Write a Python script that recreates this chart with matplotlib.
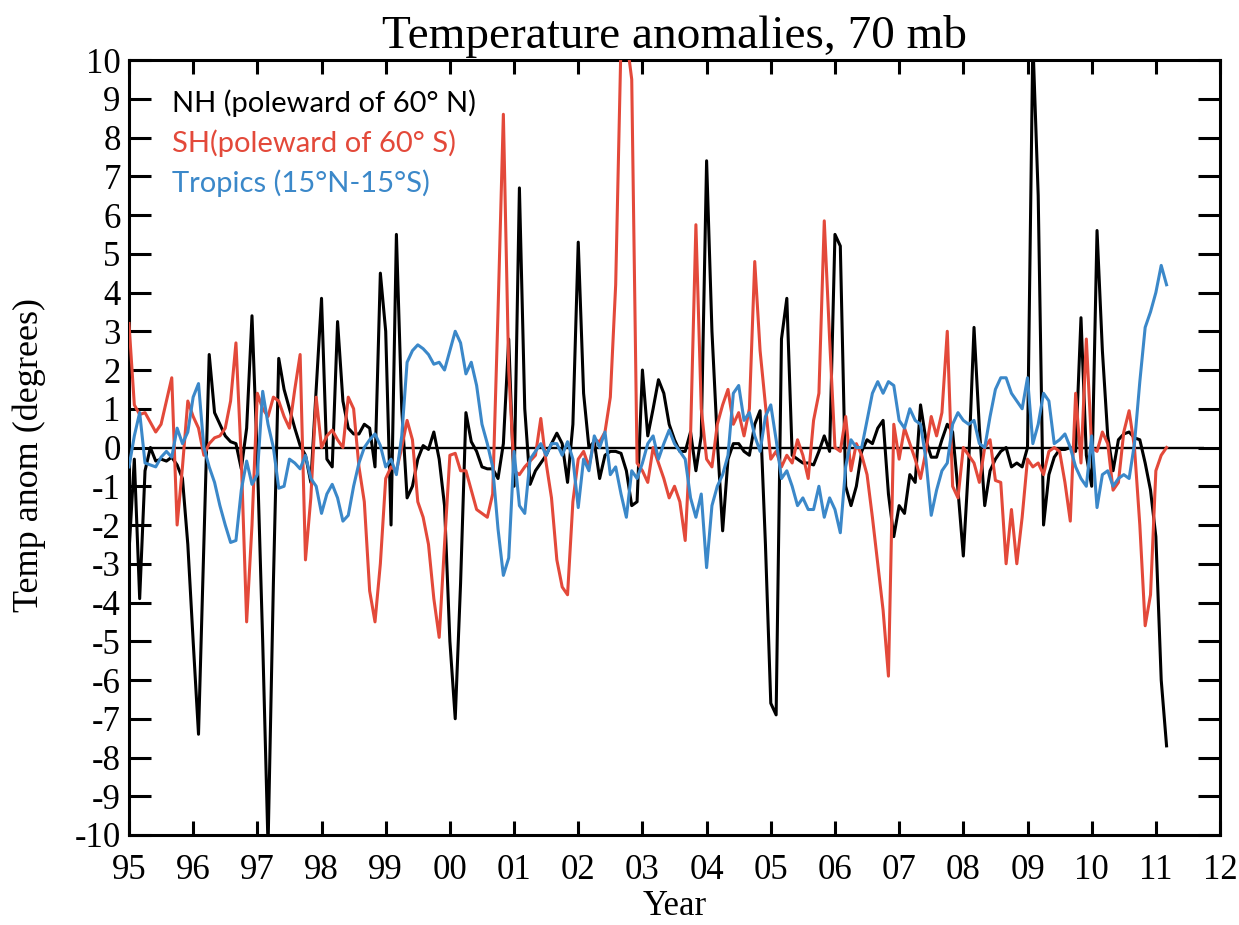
import numpy as np
import matplotlib
matplotlib.use("Agg")
import matplotlib.pyplot as plt

# Monthly anomalies, Jan 1995 .. Mar 2011
nh = [
    -2.7, -0.3, -3.9, -0.6, 0.0, -0.35, -0.3, -0.35, -0.25, -0.45, -0.8, -2.5,
    -5.0, -7.4, -2.5, 2.4, 0.9, 0.6, 0.3, 0.15, 0.1, -0.55, 0.5, 3.4,
    -0.3, -5.0, -10.3, -3.5, 2.3, 1.5, 1.0, 0.5, 0.05, -0.2, -0.9, 1.5,
    3.85, -0.3, -0.5, 3.25, 1.2, 0.5, 0.35, 0.35, 0.6, 0.5, -0.5, 4.5,
    3.0, -2.0, 5.5, 1.0, -1.3, -1.0, -0.3, 0.05, -0.05, 0.4, -0.3, -1.5,
    -5.0, -7.0, -3.5, 0.9, 0.15, -0.1, -0.5, -0.55, -0.55, -0.8, 0.1, 2.8,
    -1.0, 6.7, 1.0, -0.95, -0.6, -0.4, -0.2, 0.1, 0.37, 0.1, -0.9, 0.6,
    5.3, 1.4, 0.0, 0.15, -0.8, -0.2, -0.1, -0.1, -0.15, -0.6, -1.5, -1.4,
    2.0, 0.3, 1.0, 1.75, 1.4, 0.6, 0.2, -0.1, -0.1, 0.4, -0.6, 0.3,
    7.4, 3.0, 0.2, -2.15, -0.3, 0.1, 0.1, -0.1, -0.2, 0.6, 0.95, -2.5,
    -6.6, -6.9, 2.8, 3.85, -0.2, -0.3, -0.4, -0.4, -0.45, -0.1, 0.3, -0.1,
    5.5, 5.2, -1.0, -1.5, -1.0, -0.1, 0.2, 0.1, 0.5, 0.7, -1.2, -2.3,
    -1.5, -1.7, -0.7, -0.9, 1.1, 0.2, -0.25, -0.25, 0.2, 0.6, 0.4, -1.1,
    -2.8, -0.4, 3.1, 0.5, -1.5, -0.6, -0.3, -0.1, 0.0, -0.5, -0.4, -0.5,
    0.0, 10.5, 6.5, -2.0, -0.7, -0.25, -0.05, -0.05, 0.0, -0.1, 3.35, -0.2,
    -1.0, 5.6, 2.5, 0.3, -0.6, 0.2, 0.35, 0.4, 0.25, 0.2, -0.4, -1.1,
    -2.3, -6.0, -7.7,
]
sh = [
    3.2, 1.1, 0.85, 0.9, 0.65, 0.4, 0.6, 1.2, 1.8, -2.0, -0.5, 1.2,
    0.8, 0.5, -0.2, 0.1, 0.25, 0.3, 0.5, 1.2, 2.7, -0.3, -4.5, -2.0,
    1.4, 1.0, 0.8, 1.3, 1.2, 0.8, 0.5, 1.5, 2.4, -2.9, -1.3, 1.3,
    0.0, 0.3, 0.45, 0.2, 0.0, 1.3, 1.0, -0.5, -1.4, -3.7, -4.5, -3.0,
    -0.8, -0.5, -0.6, 0.0, 0.7, 0.2, -1.4, -1.8, -2.5, -3.9, -4.9, -2.5,
    -0.2, -0.15, -0.6, -0.6, -1.1, -1.6, -1.7, -1.8, -1.2, 3.5, 8.6, 2.0,
    -0.6, -0.7, -0.5, -0.35, -0.2, 0.75, -0.4, -1.3, -2.9, -3.6, -3.8, -1.4,
    -0.3, -0.1, -0.5, 0.2, 0.15, 0.4, 1.3, 4.2, 10.5, 10.6, 9.5, -0.4,
    -0.6, -0.9, 0.0, -0.4, -0.8, -1.3, -1.0, -1.4, -2.4, 0.3, 5.75, 1.0,
    -0.3, -0.5, 0.6, 1.1, 1.5, 0.6, 0.9, 0.3, 1.0, 4.8, 2.5, 1.1,
    -0.3, -0.1, -0.5, -0.2, -0.4, 0.2, -0.2, -0.8, 0.7, 1.4, 5.85, 2.8,
    0.0, -0.1, 0.8, -0.6, 0.1, -0.2, -0.7, -1.8, -3.0, -4.2, -5.9, 0.6,
    -0.3, 0.5, 0.1, -0.3, -0.8, -0.1, 0.8, 0.3, 0.9, 3.0, -1.0, -1.3,
    0.0, -0.2, -0.4, -0.9, 0.0, 0.2, -0.85, -0.9, -3.0, -1.6, -3.0, -1.8,
    -0.3, -0.5, -0.4, -0.7, -0.1, 0.0, -0.1, -0.9, -1.9, 1.4, -0.4, 2.8,
    0.0, -0.1, 0.4, 0.1, -1.1, -0.9, 0.4, 0.95, 0.0, -2.0, -4.6, -3.8,
    -0.6, -0.2, 0.0,
]
tropics = [
    -0.5, 0.3, 0.9, -0.4, -0.45, -0.5, -0.25, -0.1, -0.25, 0.5, 0.1, 0.4,
    1.3, 1.65, 0.0, -0.5, -0.9, -1.5, -2.0, -2.45, -2.4, -1.1, -0.35, -0.95,
    -0.7, 1.45, 0.6, 0.0, -1.05, -1.0, -0.3, -0.4, -0.55, -0.2, -0.8, -1.0,
    -1.7, -1.2, -0.95, -1.3, -1.9, -1.75, -1.0, -0.4, 0.0, 0.2, 0.35, 0.05,
    -0.5, -0.3, -0.7, 0.3, 2.2, 2.5, 2.65, 2.55, 2.4, 2.15, 2.2, 2.0,
    2.5, 3.0, 2.7, 1.9, 2.2, 1.6, 0.6, 0.1, -0.5, -2.1, -3.3, -2.85,
    -0.1, -1.5, -1.7, -0.3, -0.1, 0.1, -0.2, 0.1, 0.1, -0.2, 0.15, -0.3,
    -1.55, -0.3, -0.6, 0.3, 0.0, 0.4, -0.7, -0.5, -1.2, -1.8, -0.6, -0.8,
    -0.4, 0.1, 0.3, -0.3, 0.1, 0.45, 0.1, -0.1, -0.3, -1.3, -1.8, -1.2,
    -3.1, -1.5, -1.0, -0.7, -0.2, 1.4, 1.6, 0.7, 0.9, 0.3, -0.1, 0.8,
    1.1, 0.2, -0.8, -0.6, -1.0, -1.5, -1.3, -1.6, -1.6, -1.0, -1.8, -1.3,
    -1.6, -2.2, -0.5, 0.2, 0.0, 0.0, 0.7, 1.4, 1.7, 1.4, 1.7, 1.6,
    0.7, 0.5, 1.0, 0.7, 0.6, -0.3, -1.75, -1.1, -0.6, -0.4, 0.6, 0.9,
    0.7, 0.6, 0.7, 0.1, 0.0, 0.8, 1.5, 1.8, 1.8, 1.4, 1.2, 1.0,
    1.8, 0.1, 0.6, 1.4, 1.2, 0.1, 0.2, 0.35, 0.0, -0.5, -0.8, -1.0,
    0.3, -1.55, -0.7, -0.6, -1.0, -0.8, -0.7, -0.8, 0.1, 1.7, 3.1, 3.5,
    4.0, 4.7, 4.2,
]
start_year = 1995
year_ticks = list(range(1995, 2013))
year_labels = ["%02d" % (y % 100) for y in year_ticks]
y_ticks = list(range(-10, 11))
y_labels = [str(v) for v in y_ticks]
legend_labels = ["NH (poleward of 60° N)", "SH(poleward of 60° S)", "Tropics (15°N-15°S)"]

BLACK = "#000000"
RED = "#E3493A"
BLUE = "#3B88C9"

t = start_year + np.arange(len(nh)) / 12.0

fig = plt.figure(figsize=(12.39, 9.25), dpi=100)
ax = fig.add_axes([0.1041, 0.0973, 0.8806, 0.8378])

serif = ["Liberation Serif", "DejaVu Serif"]
sans = ["Lato", "DejaVu Sans"]

ax.hlines(0, 1995.33, 2011.75, color="black", lw=1.7, zorder=2)
ax.plot(t, nh, color=BLACK, lw=2.2, zorder=3)
ax.plot(t, sh, color=RED, lw=2.2, zorder=3)
ax.plot(t, tropics, color=BLUE, lw=2.2, zorder=3)

ax.set_xlim(1995, 2012)
ax.set_ylim(-10, 10)
ax.set_xticks(year_ticks)
ax.set_xticklabels(year_labels, fontfamily=serif, fontsize=25)
ax.set_yticks(y_ticks)
ax.set_yticklabels(y_labels, fontfamily=serif, fontsize=25)
ax.tick_params(axis="x", direction="in", length=10, width=2.2, top=True, pad=14)
ax.tick_params(axis="y", direction="in", length=16, width=2.2, right=True, pad=6)
for s in ax.spines.values():
    s.set_linewidth(2.2)

ax.set_title("Temperature anomalies, 70 mb", fontfamily=serif, fontsize=34, pad=9)
ax.set_xlabel("Year", fontfamily=serif, fontsize=25)
ax.set_ylabel("Temp anom (degrees)", fontfamily=serif, fontsize=26)
ax.xaxis.set_label_coords(0.5, -0.071)
ax.yaxis.set_label_coords(-0.076, 0.49)

for lab, col, yy in zip(legend_labels, [BLACK, RED, BLUE], [0.944, 0.893, 0.841]):
    ax.text(0.039, yy, lab, color=col, fontfamily=sans, fontsize=21,
            transform=ax.transAxes, va="center", ha="left")

fig.savefig("out.png", dpi=100)
